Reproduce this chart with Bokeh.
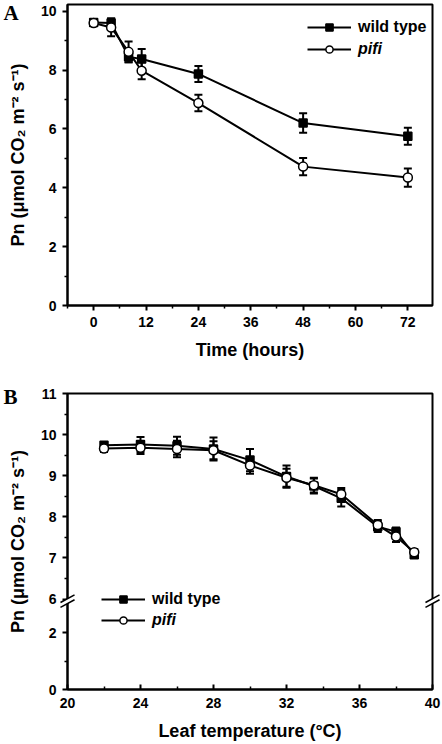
from bokeh.plotting import figure
from bokeh.models import (ColumnDataSource, Whisker, TeeHead, FixedTicker, Range1d,
                          Legend, LegendItem)
from bokeh.layouts import column
from bokeh.core.properties import value
from bokeh.embed import file_html
from bokeh.resources import INLINE

# ---------------- data ----------------
# Panel A: Pn versus time
time_h = [0, 4, 8, 11, 24, 48, 72]
a_wt = [9.62, 9.60, 8.45, 8.38, 7.87, 6.20, 5.75]
a_wt_err = [0.10, 0.15, 0.18, 0.34, 0.27, 0.33, 0.29]
a_pifi = [9.60, 9.45, 8.62, 7.98, 6.88, 4.72, 4.35]
a_pifi_err = [0.10, 0.30, 0.35, 0.29, 0.28, 0.29, 0.31]

# Panel B: Pn versus leaf temperature
temp_c = [22, 24, 26, 28, 30, 32, 33.5, 35, 37, 38, 39]
b_wt = [9.74, 9.76, 9.73, 9.65, 9.38, 8.98, 8.75, 8.45, 7.76, 7.64, 7.08]
b_wt_err = [0.07, 0.18, 0.22, 0.28, 0.27, 0.27, 0.18, 0.20, 0.13, 0.10, 0.06]
b_pifi = [9.66, 9.68, 9.65, 9.62, 9.25, 8.95, 8.77, 8.55, 7.80, 7.52, 7.14]
b_pifi_err = [0.08, 0.15, 0.20, 0.22, 0.20, 0.22, 0.18, 0.15, 0.12, 0.13, 0.08]

series_names = ["wild type", "pifi"]
panel_names = ["A", "B"]
a_xticks = [0, 12, 24, 36, 48, 60, 72]
a_yticks = [0, 2, 4, 6, 8, 10]
b_xticks = [20, 24, 28, 32, 36, 40]
b_yticks_upper = [6, 7, 8, 9, 10, 11]
b_yticks_lower = [0, 2]
b_yminor_lower = [1]

# ---------------- style ----------------
FONT = "Liberation Sans"
TICK_SIZE = "14px"
TITLE_SIZE = "18px"
LEG_SIZE = "16px"
YTITLE = "Pn (\u03bcmol CO\u2082 m\u207b\u00b2 s\u207b\u00b9)"

# broken axis of panel B: lower segment drawn compressed under the break
B_FLOOR = 3.8      # frame bottom expressed in upper-segment units
B_LOW_SCALE = 0.69  # lower-segment unit length relative to upper one
B_BREAK = 5.95


def base_axes(p):
    p.grid.visible = False
    p.outline_line_color = "black"
    p.outline_line_width = 2
    p.background_fill_color = "white"
    p.border_fill_color = "white"
    for ax in (p.xaxis[0], p.yaxis[0]):
        ax.axis_line_width = 2
        ax.major_tick_line_width = 2
        ax.minor_tick_line_width = 1.5
        ax.major_tick_out = 5
        ax.major_tick_in = 0
        ax.minor_tick_out = 3
        ax.minor_tick_in = 0
        ax.major_label_text_font = FONT
        ax.major_label_text_font_style = "bold"
        ax.major_label_text_font_size = TICK_SIZE
        ax.major_label_text_color = "black"
        ax.axis_label_text_font = FONT
        ax.axis_label_text_font_style = "bold"
        ax.axis_label_text_font_size = TITLE_SIZE
        ax.axis_label_text_color = "black"
    p.xaxis.major_label_standoff = 6
    p.yaxis.major_label_standoff = 6
    p.xaxis.axis_label_standoff = 10
    p.yaxis.axis_label_standoff = 10


def draw_series(p, x, wt, wt_err, pf, pf_err):
    rends = []
    for y, e, marker, size, fill in ((wt, wt_err, "square", 8, "black"),
                                      (pf, pf_err, "circle", 9, "white")):
        src = ColumnDataSource(dict(x=x, y=y,
                                    lo=[v - d for v, d in zip(y, e)],
                                    hi=[v + d for v, d in zip(y, e)]))
        w = Whisker(source=src, base="x", lower="lo", upper="hi",
                    line_width=2, line_color="black",
                    upper_head=TeeHead(size=8, line_width=2, line_color="black"),
                    lower_head=TeeHead(size=8, line_width=2, line_color="black"))
        p.add_layout(w)
        ln = p.line("x", "y", source=src, line_width=2, line_color="black")
        sc = p.scatter("x", "y", source=src, marker=marker, size=size,
                       fill_color=fill, line_color="black", line_width=1.5)
        rends.append([ln, sc])
    return rends


def add_legends(p, rends, x0, y_rows):
    for name, r, yy, style in zip(series_names, rends, y_rows, ("bold", "bold italic")):
        leg = Legend(items=[LegendItem(label=name, renderers=r)],
                     location=(x0, yy), padding=0, margin=0, spacing=0,
                     glyph_width=44, glyph_height=18, label_height=18,
                     label_standoff=7, background_fill_alpha=0,
                     border_line_alpha=0, label_text_font=FONT,
                     label_text_font_style=style, label_text_font_size=LEG_SIZE,
                     label_text_color="black")
        p.add_layout(leg)


def panel_label(p, txt, dy):
    # anchored at the frame's top-left corner, pushed out to the page edge
    r = p.text(x=[p.x_range.start], y=[p.y_range.end], text=[txt],
               x_offset=-64, y_offset=dy,
               text_font=value("Liberation Serif"), text_font_style="bold",
               text_font_size="21px", text_align="left", text_baseline="middle",
               text_color="black")
    r.level = "overlay"


# ---------------- panel A ----------------
pA = figure(width=442, height=370, output_backend="svg", toolbar_location=None,
            x_range=Range1d(-6, 77.65), y_range=Range1d(0, 10.23),
            min_border_left=67, min_border_right=5, min_border_top=4,
            min_border_bottom=65)
base_axes(pA)
pA.xaxis.ticker = FixedTicker(ticks=a_xticks,
                              minor_ticks=[t - 6 for t in a_xticks])
pA.yaxis.ticker = FixedTicker(ticks=a_yticks, minor_ticks=[t + 1 for t in a_yticks[:-1]])
pA.xaxis.axis_label = "Time (hours)"
pA.yaxis.axis_label = YTITLE
rA = draw_series(pA, time_h, a_wt, a_wt_err, a_pifi, a_pifi_err)
add_legends(pA, rA, 240, [269, 247])
panel_label(pA, panel_names[0], 8)

# ---------------- panel B ----------------
pB = figure(width=442, height=374, output_backend="svg", toolbar_location=None,
            x_range=Range1d(20, 40), y_range=Range1d(B_FLOOR, 11),
            min_border_left=67, min_border_right=10, min_border_top=23,
            min_border_bottom=55)
base_axes(pB)
pB.xaxis.ticker = FixedTicker(ticks=b_xticks, minor_ticks=[t + 2 for t in b_xticks[:-1]])
pB.xaxis.major_tick_out = 0
pB.xaxis.major_tick_in = 5
pB.xaxis.minor_tick_out = 0
pB.xaxis.minor_tick_in = 3
pB.xaxis.major_label_standoff = 8
low_pos = [B_FLOOR + v * B_LOW_SCALE for v in b_yticks_lower]
low_minor = [B_FLOOR + v * B_LOW_SCALE for v in b_yminor_lower]
pB.yaxis.ticker = FixedTicker(ticks=low_pos + b_yticks_upper,
                              minor_ticks=low_minor + [t + 0.5 for t in b_yticks_upper[:-1]])
overrides = {pos: str(v) for pos, v in zip(low_pos, b_yticks_lower)}
overrides.update({float(v): str(v) for v in b_yticks_upper})
pB.yaxis.major_label_overrides = overrides
pB.xaxis.axis_label = "Leaf temperature (\u00b0C)"
pB.yaxis.axis_label = YTITLE
rB = draw_series(pB, temp_c, b_wt, b_wt_err, b_pifi, b_pifi_err)
add_legends(pB, rB, 34, [81, 60])
panel_label(pB, panel_names[1], 3)

# axis-break marks on both vertical edges of panel B
xs = [pB.x_range.start, pB.x_range.end]
gap = ColumnDataSource(dict(x=xs, y=[B_BREAK] * 2))
g = pB.scatter("x", "y", source=gap, marker="dash", size=16, angle=0.5,
               line_color="white", line_width=4)
g.level = "overlay"
brk = ColumnDataSource(dict(x=xs * 2, y=[B_BREAK - 0.06] * 2 + [B_BREAK + 0.06] * 2))
b = pB.scatter("x", "y", source=brk, marker="dash", size=16, angle=0.5,
               line_color="black", line_width=1.5)
b.level = "overlay"

layout = column(pA, pB)
open("out.html", "w").write(file_html(layout, INLINE))
